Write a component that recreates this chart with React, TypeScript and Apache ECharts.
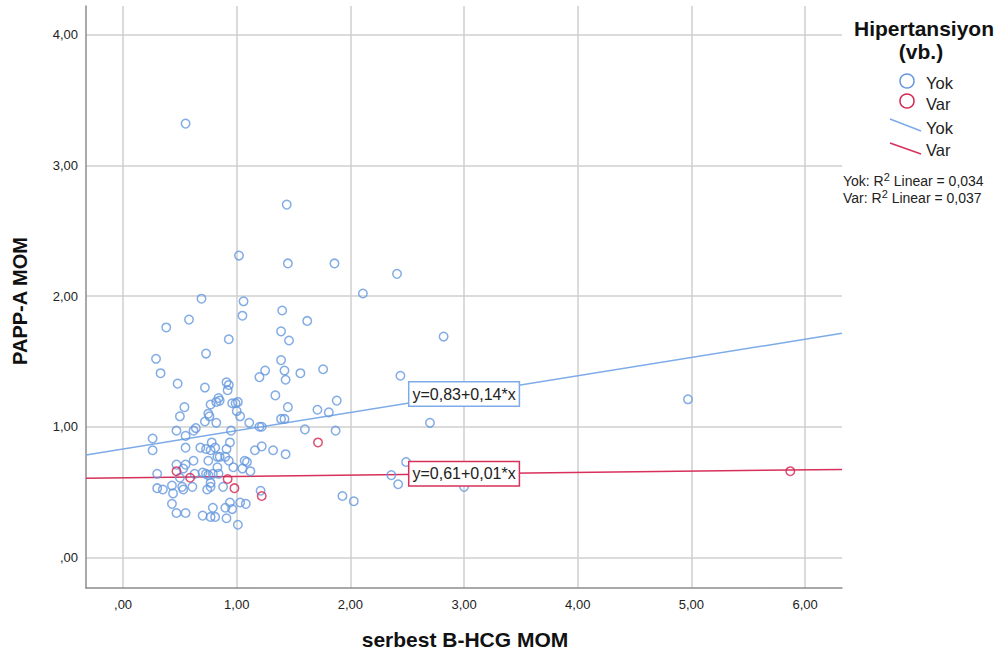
import React, { useEffect, useRef } from "react";
import * as echarts from "echarts";

// Hipertansiyon: Yok (no) group — [serbest B-HCG MOM, PAPP-A MOM]
const yokPoints: [number, number][] = [
  [0.55, 3.32], [1.44, 2.70], [1.02, 2.31], [1.45, 2.25], [1.86, 2.25],
  [2.41, 2.17], [2.11, 2.02], [0.69, 1.98], [1.06, 1.96], [1.05, 1.85],
  [1.40, 1.89], [1.62, 1.81], [0.58, 1.82], [0.38, 1.76], [1.39, 1.73],
  [1.46, 1.66], [2.82, 1.69], [0.93, 1.67], [0.73, 1.56], [0.29, 1.52],
  [1.39, 1.51], [0.33, 1.41], [1.25, 1.43], [1.20, 1.38], [1.42, 1.43],
  [1.43, 1.36], [1.56, 1.41], [1.76, 1.44], [2.44, 1.39], [0.48, 1.33],
  [0.72, 1.30], [0.91, 1.34], [0.93, 1.32], [0.92, 1.28], [1.34, 1.24],
  [1.45, 1.15], [1.88, 1.20], [1.71, 1.13], [1.81, 1.11], [4.97, 1.21],
  [1.39, 1.06], [1.42, 1.06], [1.60, 0.98], [1.87, 0.97], [2.70, 1.03],
  [1.11, 1.03], [1.22, 1.00], [1.20, 1.00], [1.03, 1.08], [0.99, 1.18],
  [1.01, 1.19], [1.00, 1.12], [0.96, 1.18], [0.84, 1.22], [0.82, 1.19],
  [0.77, 1.17], [0.85, 1.20], [0.54, 1.15], [0.50, 1.08], [0.75, 1.10],
  [0.76, 1.08], [0.72, 1.04], [0.82, 1.03], [0.95, 0.97], [0.64, 0.99],
  [0.62, 0.97], [0.47, 0.97], [0.26, 0.91], [0.26, 0.82], [0.55, 0.93],
  [0.94, 0.88], [0.78, 0.88], [0.91, 0.83], [0.55, 0.84], [0.68, 0.84],
  [0.73, 0.83], [0.77, 0.82], [0.81, 0.84], [0.83, 0.77], [0.85, 0.77],
  [0.90, 0.77], [0.93, 0.74], [0.75, 0.74], [0.62, 0.74], [0.47, 0.71],
  [0.55, 0.71], [1.16, 0.82], [1.22, 0.85], [1.32, 0.82], [1.43, 0.79],
  [1.07, 0.74], [1.09, 0.73], [1.12, 0.66], [0.53, 0.68], [0.83, 0.69],
  [0.97, 0.69], [1.05, 0.68], [0.30, 0.64], [0.50, 0.61], [0.63, 0.64],
  [0.70, 0.65], [0.73, 0.64], [0.75, 0.63], [0.79, 0.64], [0.84, 0.64],
  [2.49, 0.73], [2.36, 0.63], [2.42, 0.56], [3.00, 0.54], [1.93, 0.47],
  [2.03, 0.43], [1.21, 0.51], [0.30, 0.53], [0.35, 0.52], [0.43, 0.55],
  [0.52, 0.54], [0.61, 0.54], [0.77, 0.57], [0.74, 0.52], [0.77, 0.54],
  [0.44, 0.49], [0.53, 0.52], [0.88, 0.54], [0.43, 0.41], [0.47, 0.34],
  [0.55, 0.34], [0.79, 0.38], [0.90, 0.38], [0.94, 0.42], [0.96, 0.37],
  [1.03, 0.42], [1.08, 0.41], [0.70, 0.32], [0.77, 0.31], [0.81, 0.31],
  [0.91, 0.30], [1.01, 0.25],
];

// Hipertansiyon: Var (yes) group
const varPoints: [number, number][] = [
  [0.47, 0.66], [0.59, 0.61], [0.92, 0.60], [0.98, 0.53], [1.22, 0.47],
  [1.715, 0.88], [5.87, 0.66],
];

// Linear fit lines: [intercept, slope]
const yokFit: [number, number] = [0.83, 0.14];
const varFit: [number, number] = [0.61, 0.01];
const rSquared = { Yok: "0,034", Var: "0,037" };

const X_MIN = -0.326;
const X_MAX = 6.325;
const Y_MIN = -0.234;
const Y_MAX = 4.22;
const LABEL_X = 3.0;

const BLUE = "#6497de";
const RED = "#d42450";
const BLUE_LINE = "#7dabe8";
const RED_LINE = "#d8305a";
const FONT = "'Liberation Sans', Arial, sans-serif";

const fmtComma = (v: number) => v.toFixed(2).replace(".", ",");
const tickFmt = (v: number) => {
  if (v < -1e-9 || Math.abs(v - Math.round(v)) > 1e-6) return "";
  const s = fmtComma(v);
  return s.startsWith("0,") ? s.slice(1) : s;
};
const eqText = (fit: [number, number]) => `y=${fmtComma(fit[0])}+${fmtComma(fit[1])}*x`;
const fitLine = (fit: [number, number]) => [
  [X_MIN, fit[0] + fit[1] * X_MIN],
  [X_MAX, fit[0] + fit[1] * X_MAX],
];

export default function App() {
  const ref = useRef<HTMLDivElement>(null);

  useEffect(() => {
    if (!ref.current) return;
    const chart = echarts.init(ref.current, undefined, { renderer: "svg" });

    const axisCommon = {
      type: "value" as const,
      axisLine: { show: true, onZero: false, lineStyle: { color: "#8c8c8c", width: 1.5 } },
      axisTick: { show: false },
      splitLine: {
        show: true,
        showMinLine: false,
        showMaxLine: false,
        lineStyle: { color: "#cfcfcf", width: 1.5 },
      },
      axisLabel: {
        formatter: tickFmt,
        color: "#222",
        fontSize: 13,
        fontFamily: FONT,
        showMinLabel: false,
        showMaxLabel: false,
      },
    };

    const eqLabel = (fit: [number, number], color: string) => ({
      symbol: "rect",
      symbolSize: 0,
      silent: true,
      data: [{ coord: [LABEL_X, fit[0] + fit[1] * LABEL_X] }],
      label: {
        show: true,
        position: "inside",
        formatter: eqText(fit),
        color: "#222",
        fontSize: 16,
        fontFamily: FONT,
        backgroundColor: "#fff",
        borderColor: color,
        borderWidth: 1.5,
        padding: [4, 3, 3, 3],
      },
    });

    const sub = (name: string, val: string, y: number) => ({
      type: "text", x: 843, y,
      style: {
        text: `{a|${name}: R}{s|2}{a| Linear = ${val}}`,
        fontFamily: FONT, verticalAlign: "middle",
        rich: {
          a: { fontSize: 14, fill: "#222", fontFamily: FONT },
          s: { fontSize: 11, fill: "#222", fontFamily: FONT, padding: [0, 0, 8, 0] },
        },
      },
    });

    chart.setOption({
      animation: false,
      backgroundColor: "#fff",
      grid: { left: 86, top: 6, right: 159, bottom: 69, containLabel: false },
      xAxis: { ...axisCommon, min: X_MIN, max: X_MAX, splitNumber: 6,
        axisLabel: { ...axisCommon.axisLabel, margin: 10 } },
      yAxis: { ...axisCommon, min: Y_MIN, max: Y_MAX, splitNumber: 4,
        axisLabel: { ...axisCommon.axisLabel, margin: 8 } },
      series: [
        {
          name: "Yok fit",
          type: "line",
          data: fitLine(yokFit),
          symbol: "none",
          lineStyle: { color: BLUE_LINE, width: 1.5 },
          z: 2,
          markPoint: eqLabel(yokFit, BLUE_LINE),
        },
        {
          name: "Var fit",
          type: "line",
          data: fitLine(varFit),
          symbol: "none",
          lineStyle: { color: RED_LINE, width: 1.5 },
          z: 2,
          markPoint: eqLabel(varFit, RED_LINE),
        },
        {
          name: "Yok",
          type: "scatter",
          data: yokPoints,
          symbol: "circle",
          symbolSize: 8.5,
          itemStyle: { color: "rgba(0,0,0,0)", borderColor: BLUE, borderWidth: 1.5 },
          z: 3,
        },
        {
          name: "Var",
          type: "scatter",
          data: varPoints,
          symbol: "circle",
          symbolSize: 8.5,
          itemStyle: { color: "rgba(0,0,0,0)", borderColor: RED, borderWidth: 1.5 },
          z: 3,
        },
      ],
      graphic: [
        {
          type: "text", x: 20, y: 301, rotation: Math.PI / 2,
          style: { text: "PAPP-A MOM", fontSize: 20, fontWeight: "bold", fontFamily: FONT,
            fill: "#111", align: "center", verticalAlign: "middle" },
        },
        {
          type: "text", x: 465, y: 639,
          style: { text: "serbest B-HCG MOM", fontSize: 21, fontWeight: "bold", fontFamily: FONT,
            fill: "#111", align: "center", verticalAlign: "middle" },
        },
        {
          type: "text", x: 924, y: 28,
          style: { text: "Hipertansiyon", fontSize: 21, fontWeight: "bold", fontFamily: FONT,
            fill: "#111", align: "center", verticalAlign: "middle" },
        },
        {
          type: "text", x: 921, y: 51,
          style: { text: "(vb.)", fontSize: 21, fontWeight: "bold", fontFamily: FONT,
            fill: "#111", align: "center", verticalAlign: "middle" },
        },
        { type: "circle", shape: { cx: 907, cy: 81, r: 7 },
          style: { fill: "none", stroke: BLUE, lineWidth: 1.5 } },
        { type: "text", x: 926, y: 83,
          style: { text: "Yok", fontSize: 16.5, fontFamily: FONT, fill: "#222", verticalAlign: "middle" } },
        { type: "circle", shape: { cx: 907, cy: 101, r: 7 },
          style: { fill: "none", stroke: RED, lineWidth: 1.5 } },
        { type: "text", x: 926, y: 104,
          style: { text: "Var", fontSize: 16.5, fontFamily: FONT, fill: "#222", verticalAlign: "middle" } },
        { type: "line", shape: { x1: 890, y1: 119, x2: 921, y2: 131 },
          style: { stroke: BLUE_LINE, lineWidth: 1.5 } },
        { type: "text", x: 926, y: 128,
          style: { text: "Yok", fontSize: 16.5, fontFamily: FONT, fill: "#222", verticalAlign: "middle" } },
        { type: "line", shape: { x1: 890, y1: 143, x2: 921, y2: 154 },
          style: { stroke: RED_LINE, lineWidth: 1.5 } },
        { type: "text", x: 926, y: 150,
          style: { text: "Var", fontSize: 16.5, fontFamily: FONT, fill: "#222", verticalAlign: "middle" } },
        sub("Yok", rSquared.Yok, 181),
        sub("Var", rSquared.Var, 198),
      ],
    });

    return () => chart.dispose();
  }, []);

  return (
    <div
      ref={ref}
      style={{ position: "absolute", left: 0, top: 0, width: 1001, height: 657 }}
    />
  );
}
